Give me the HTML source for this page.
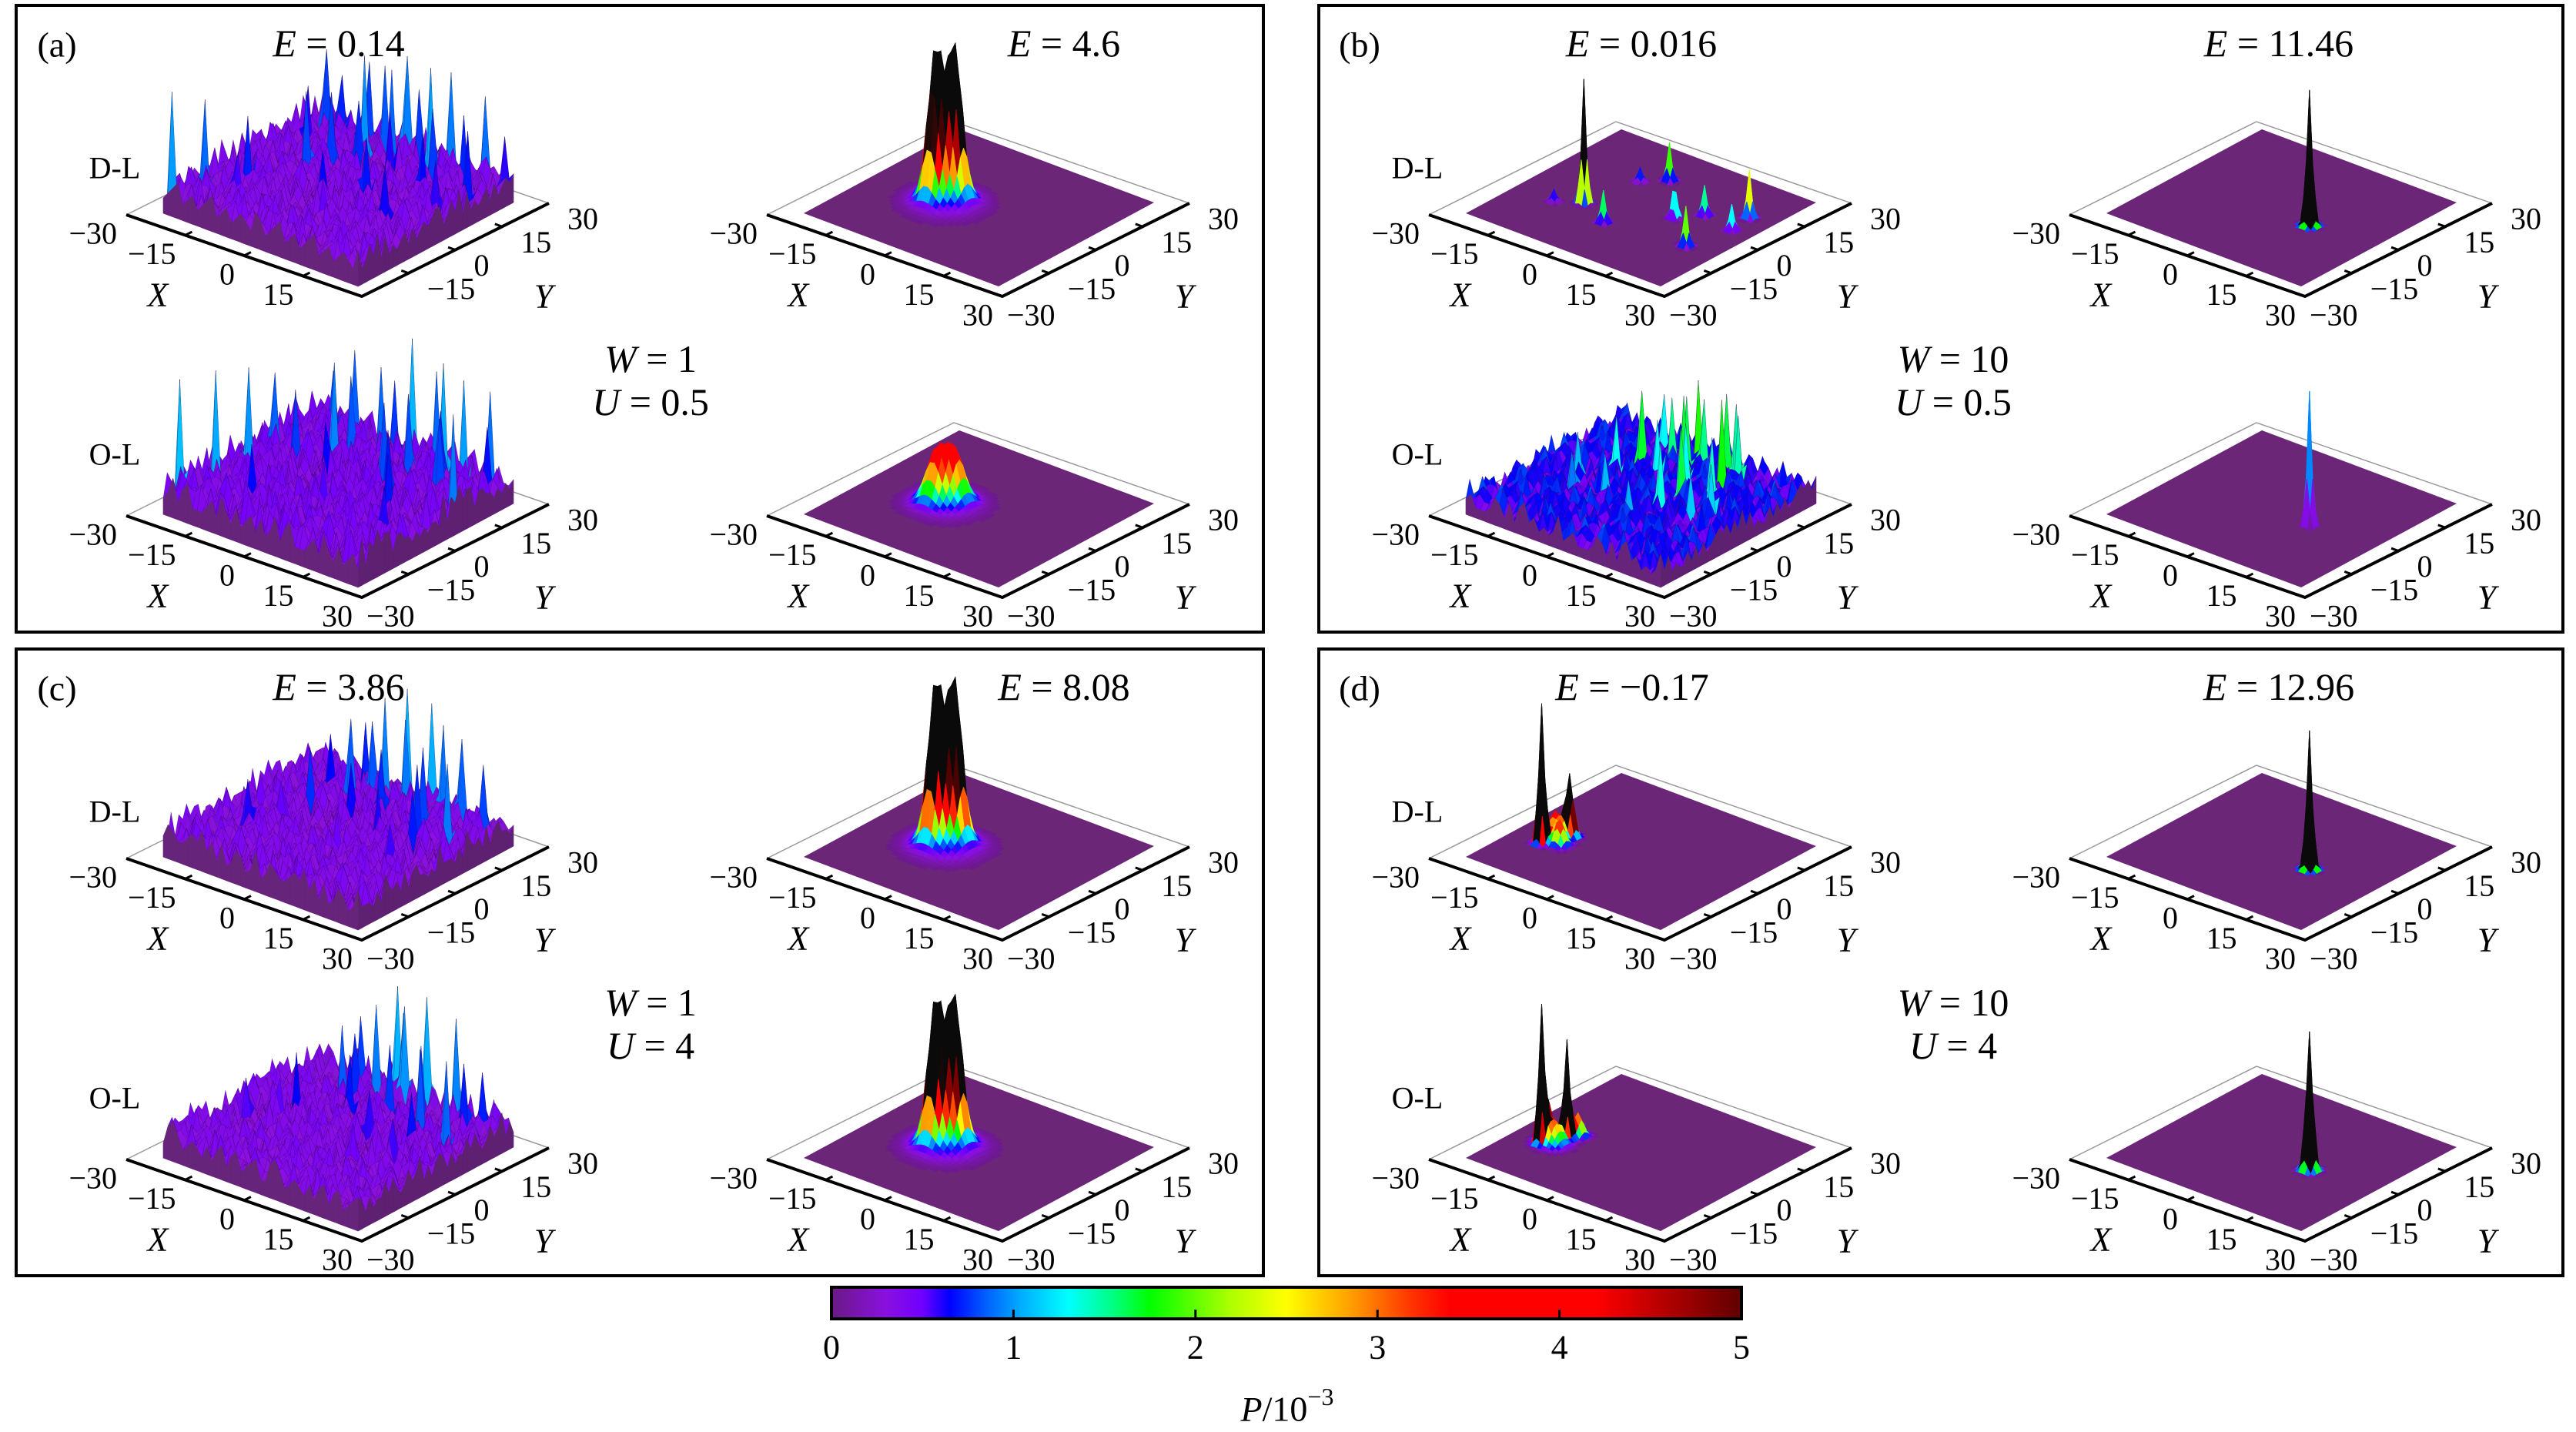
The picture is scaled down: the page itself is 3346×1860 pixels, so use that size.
<!DOCTYPE html>
<html><head><meta charset="utf-8"><title>Probability distributions</title>
<style>
html,body{margin:0;padding:0;background:#fff;}
svg{display:block;font-family:"Liberation Serif",serif;}
</style></head>
<body>
<svg id="fig" xmlns="http://www.w3.org/2000/svg" width="3346" height="1860" viewBox="0 0 3346 1860">
<rect x="0" y="0" width="3346" height="1860" fill="#fff"/>
<defs>
<linearGradient id="cbgrad" x1="0" y1="0" x2="1" y2="0"></linearGradient>
</defs>
</svg>
<script>
// ---------------- data ----------------
const colorbarTicks=[0,1,2,3,4,5];
const panelIds=['(a)','(b)','(c)','(d)'];
const energyLeft=['0.14','0.016','3.86','\u22120.17'];
const energyRight=['4.6','11.46','8.08','12.96'];
const disorderW=['1','10','1','10'];
const interactionU=['0.5','0.5','4','4'];
const axisTicks=[-30,-15,0,15,30];

const texRows=[
"131241312513212431231","213512421231432125132","312143215342113241231",
"421231352124132513241","132413214231541231323","214321243152312412142",
"321252133214231352131","143214321532142132413","231341252143213241321",
"312423143215324132142","421314231342132513231","132521432143241321432",
"241231342152313241321","313421523142314213242","124132143213241532131",
"231453212432152313241","342121341321432142312","213234125132413213421",
"132412312431321542132","421321432152134213241","312143213421321321312"];

// noise plots: spikes (x, y, value)
const aTL_sx=[-28,-26,-20,-14,-8,-2,4,10,16,22,26,-22,-10,0,8,18,-16,-4,12,24,-24,6,-18,-6,2,14,20,28,-12,-1];
const aTL_sy=[-28,-20,-10,4,20,28,26,22,12,28,18,16,10,-6,2,-4,-18,14,28,8,26,-14,24,26,18,20,24,28,27,22];
const aTL_sv=[2.2,1.9,1.5,1.7,2.1,2.0,1.6,2.2,1.4,1.8,1.5,1.3,1.6,1.2,1.4,1.3,1.1,1.5,2.0,1.2,1.7,1.0,1.4,1.8,1.3,1.6,1.5,1.2,1.7,1.9];
const aBL_sx=[-28,-27,-24,-18,-12,-6,0,6,12,18,24,27,-20,-8,4,16,22,-14,2,10,-26,20,-16,-3,8,14,-10,26];
const aBL_sy=[-26,-14,-4,6,14,24,28,20,26,16,28,10,22,4,12,-2,-10,-16,-8,6,8,24,27,26,28,22,18,26];
const aBL_sv=[2.2,2.1,2.0,1.5,1.9,1.7,2.2,1.6,2.1,1.5,1.8,1.9,1.4,1.2,1.6,1.3,1.1,1.2,1.0,1.4,1.6,2.0,1.7,1.5,1.8,1.4,1.6,1.3];
const cTL_sx=[-20,-14,-10,-6,-2,2,6,10,14,18,24,-16,-4,8,20,0,-24,12,4,-8,-12,16,26,-18];
const cTL_sy=[-10,6,18,26,28,24,28,20,14,6,12,-2,10,6,-4,16,0,26,-6,22,26,27,24,20];
const cTL_sv=[1.2,1.5,1.8,2.1,2.3,1.9,2.2,1.7,1.6,1.4,1.9,1.0,1.3,1.2,1.1,1.5,0.9,2.0,1.0,1.7,1.5,1.8,1.6,1.3];
const cBL_sx=[-22,-16,-12,-8,-4,0,4,8,12,16,22,-18,-6,6,18,2,-26,14,-10,10,-14,24,-2,20];
const cBL_sy=[-8,4,16,24,28,26,28,22,16,8,14,0,12,4,-2,18,-4,28,20,-8,26,26,27,24];
const cBL_sv=[1.1,1.4,1.7,2.0,2.3,2.1,2.3,1.6,1.8,1.3,1.9,1.0,1.4,1.2,1.1,1.6,0.9,2.1,1.5,1.0,1.6,1.4,1.9,1.5];
const bBL_sx=[-20,-14,-10,-6,-2,2,6,10,14,18,-16,-4,8,0,-8,4,12,-12,16,6,-1,3,9];
const bBL_sy=[0,8,14,20,24,22,26,18,10,4,-6,12,6,16,-4,-10,22,24,-2,0,20,14,26];
const bBL_sv=[1.6,2.0,2.6,2.3,2.8,2.4,2.6,2.9,2.2,1.8,1.4,2.0,2.5,2.7,1.6,1.5,2.3,2.0,1.7,2.2,2.5,2.1,2.4];

// peak plots: gaussian peaks (x, y, height, width)
const aTR_px=[-9.5,-6.5,-8], aTR_py=[-4.8,-1.2,-3], aTR_ph=[6.5,6.5,1.2], aTR_pw=[1.8,1.8,4.5];
const aBR_px=[-9.5,-6.5,-8], aBR_py=[-4.8,-1.2,-3], aBR_ph=[2.6,2.6,1.0], aBR_pw=[2.2,2.2,4.5];
const cTR_px=[-9.5,-6.5,-8], cTR_py=[-4.8,-1.2,-3], cTR_ph=[7.0,7.0,1.5], cTR_pw=[1.8,1.8,4.5];
const cBR_px=[-9.5,-6.5,-8], cBR_py=[-4.8,-1.2,-3], cBR_ph=[6.5,6.5,1.5], cBR_pw=[1.8,1.8,4.5];
const bTL_px=[-12,-2,-4,23,21,14,24,-18,-9,9.5], bTL_py=[-7,-12,16,13,-9,7,5,-11,11,1];
const bTL_ph=[6.2,1.6,1.9,2.4,2.0,1.5,1.3,0.6,0.7,1.7], bTL_pw=[0.7,0.7,0.7,0.7,0.7,0.7,0.7,0.7,0.7,0.7];
const bTR_px=[11], bTR_py=[-3], bTR_ph=[40], bTR_pw=[0.8];
const bBR_px=[11], bBR_py=[-3], bBR_ph=[0.95], bBR_pw=[0.7];
const dTL_px=[-21,-18,-20,-17], dTL_py=[-12,-5,-8,-10], dTL_ph=[18,8,3.5,3], dTL_pw=[0.8,1.0,1.5,1.2];
const dTR_px=[11], dTR_py=[-3], dTR_ph=[40], dTR_pw=[0.8];
const dBL_px=[-21,-18,-22,-17,-19], dBL_py=[-12,-6,-9,-3,-10], dBL_ph=[17,12.5,5,3,3], dBL_pw=[0.8,0.8,1,1.2,2];
const dBR_px=[11], dBR_py=[-3], dBR_ph=[20], dBR_pw=[0.9];

const cmapVals=[0,0.3,0.5,0.65,0.85,1.05,1.3,1.55,1.75,2.2,2.5,2.85,3.2,3.4,4.2,4.6,5];
const cmapCols=['#6a1a84','#8a10e0','#7000ff','#0000ff','#0060ff','#00b0ff','#00ffff','#00ff80','#00ff00','#b0ff00','#ffff00','#ffa000','#ff3000','#ff0000','#ff0000','#b00000','#600000'];

// ---------------- geometry ----------------
const NS='http://www.w3.org/2000/svg';
const svg=document.getElementById('fig');
const panelOX=[0,1692,0,1692], panelOY=[0,0,836,836];
const subDX=[0,832], subDY=[0,391];
const FL=[164,279], FF=[470,385], FR=[713,264];
const PL=[212,277], PF=[465,372], PR=[667,263];

function hex(c){return [parseInt(c.substr(1,2),16),parseInt(c.substr(3,2),16),parseInt(c.substr(5,2),16)];}
function mix(a,b,t){const A=hex(a),B=hex(b);return 'rgb('+A.map((v,i)=>Math.round(v+(B[i]-v)*t)).join(',')+')';}
function cmap(v){
  if(v>=5){const t=Math.min(1,(v-5)/0.5);return mix('#600000','#0a0a0a',t);}
  if(v<=0)return cmapCols[0];
  for(let k=1;k<cmapVals.length;k++){if(v<=cmapVals[k]){return mix(cmapCols[k-1],cmapCols[k],(v-cmapVals[k-1])/(cmapVals[k]-cmapVals[k-1]));}}
  return cmapCols[cmapCols.length-1];
}
function proj(ox,oy,x,y,z,zs){
  const s=(x+30)/60,t=(y+30)/60;
  return [ox+PL[0]+s*(PF[0]-PL[0])+t*(PR[0]-PF[0]), oy+PL[1]+s*(PF[1]-PL[1])+t*(PR[1]-PF[1])-z*zs];
}
function frameX(ox,oy,x){const s=(x+30)/60;return [ox+FL[0]+s*(FF[0]-FL[0]),oy+FL[1]+s*(FF[1]-FL[1])];}
function frameY(ox,oy,y){const t=(y+30)/60;return [ox+FF[0]+t*(FR[0]-FF[0]),oy+FF[1]+t*(FR[1]-FF[1])];}
function pts(a){return a.map(p=>p[0].toFixed(1)+','+p[1].toFixed(1)).join(' ');}

const plots=[
 {p:0,c:0,r:0,type:'noise',sx:aTL_sx,sy:aTL_sy,sv:aTL_sv,amp:1,spk:0.65,zs:110,shift:0,noHigh:true},
 {p:0,c:1,r:0,type:'peak',px:aTR_px,py:aTR_py,ph:aTR_ph,pw:aTR_pw,zs:27,N:48},
 {p:0,c:0,r:1,type:'noise',sx:aBL_sx,sy:aBL_sy,sv:aBL_sv,amp:1.15,spk:0.7,zs:110,shift:5},
 {p:0,c:1,r:1,type:'peak',px:aBR_px,py:aBR_py,ph:aBR_ph,pw:aBR_pw,zs:20,N:48},
 {p:1,c:0,r:0,type:'peak',px:bTL_px,py:bTL_py,ph:bTL_ph,pw:bTL_pw,zs:26,N:60},
 {p:1,c:1,r:0,type:'peak',px:bTR_px,py:bTR_py,ph:bTR_ph,pw:bTR_pw,zs:4.4,N:60},
 {p:1,c:0,r:1,type:'noise',sx:bBL_sx,sy:bBL_sy,sv:bBL_sv,amp:2.0,spk:0.9,zs:48,shift:9},
 {p:1,c:1,r:1,type:'peak',px:bBR_px,py:bBR_py,ph:bBR_ph,pw:bBR_pw,zs:185,N:60},
 {p:2,c:0,r:0,type:'noise',sx:cTL_sx,sy:cTL_sy,sv:cTL_sv,amp:1,spk:0.65,zs:105,shift:3},
 {p:2,c:1,r:0,type:'peak',px:cTR_px,py:cTR_py,ph:cTR_ph,pw:cTR_pw,zs:26,N:48},
 {p:2,c:0,r:1,type:'noise',sx:cBL_sx,sy:cBL_sy,sv:cBL_sv,amp:1,spk:0.65,zs:105,shift:13},
 {p:2,c:1,r:1,type:'peak',px:cBR_px,py:cBR_py,ph:cBR_ph,pw:cBR_pw,zs:25,N:48},
 {p:3,c:0,r:0,type:'peak',px:dTL_px,py:dTL_py,ph:dTL_ph,pw:dTL_pw,zs:10,N:60},
 {p:3,c:1,r:0,type:'peak',px:dTR_px,py:dTR_py,ph:dTR_ph,pw:dTR_pw,zs:4.5,N:60},
 {p:3,c:0,r:1,type:'peak',px:dBL_px,py:dBL_py,ph:dBL_ph,pw:dBL_pw,zs:10,N:60},
 {p:3,c:1,r:1,type:'peak',px:dBR_px,py:dBR_py,ph:dBR_ph,pw:dBR_pw,zs:9,N:60}
];

function heights(pl){
  const N=pl.type==='noise'?40:pl.N, h=[];
  for(let i=0;i<=N;i++){h.push([]);for(let j=0;j<=N;j++){
    const x=-30+60*i/N,y=-30+60*j/N;let v=0;
    if(pl.type==='noise'){
      const row=texRows[(i+pl.shift)%21];const d=parseInt(row.charAt((j*2+pl.shift)%21)||'2');
      v=0.1+pl.amp*0.08*d;
    } else {
      for(let k=0;k<pl.px.length;k++){const dx=x-pl.px[k],dy=y-pl.py[k];v+=pl.ph[k]*Math.exp(-(dx*dx+dy*dy)/(2*pl.pw[k]*pl.pw[k]));}
    }
    h[i].push(v);
  }}
  if(pl.type==='noise'){
    for(let k=0;k<pl.sx.length;k++){
      const i=Math.round((pl.sx[k]+30)/60*N),j=Math.round((pl.sy[k]+30)/60*N);
      h[i][j]=Math.max(h[i][j],pl.sv[k]*pl.spk);
    }
  }
  return {N,h};
}

function addText(parent,x,y,size,content,anchor,name,italic){
  const t=document.createElementNS(NS,'text');
  
  
  t.setAttribute('x',x);t.setAttribute('y',y);
  t.setAttribute('font-size',size);t.setAttribute('text-anchor',anchor||'middle');
  t.setAttribute('dominant-baseline','central');
  if(italic)t.setAttribute('font-style','italic');
  t.textContent=content;parent.appendChild(t);return t;
}

// ---------------- panels ----------------
for(let p=0;p<4;p++){
  const g=document.createElementNS(NS,'g');
  
  
  svg.appendChild(g);
  const ox=panelOX[p],oy=panelOY[p];
  const box=document.createElementNS(NS,'rect');
  
  
  box.setAttribute('x',ox+21);box.setAttribute('y',oy+7);box.setAttribute('width',p%2?1616:1620);box.setAttribute('height',814);
  box.setAttribute('fill','none');box.setAttribute('stroke','#000');box.setAttribute('stroke-width',4);
  g.appendChild(box);
  addText(g,ox+74,oy+58,46,panelIds[p],'middle','panel-label');
  const e1=addText(g,ox+(p===3?428:440),oy+56,50,'','middle','energy-title-left');
  const ei=document.createElementNS(NS,'tspan');ei.setAttribute('font-style','italic');ei.textContent='E';e1.appendChild(ei);
  e1.appendChild(document.createTextNode(' = '+energyLeft[p]));
  const e2=addText(g,ox+(p%2===1?1268:1382),oy+56,50,'','middle','energy-title-right');
  const ej=document.createElementNS(NS,'tspan');ej.setAttribute('font-style','italic');ej.textContent='E';e2.appendChild(ej);
  e2.appendChild(document.createTextNode(' = '+energyRight[p]));
  const w=addText(g,ox+845,oy+466,50,'','middle','disorder-label');
  const wi=document.createElementNS(NS,'tspan');wi.setAttribute('font-style','italic');wi.textContent='W';w.appendChild(wi);
  w.appendChild(document.createTextNode(' = '+disorderW[p]));
  const u=addText(g,ox+845,oy+522,50,'','middle','interaction-label');
  const ui=document.createElementNS(NS,'tspan');ui.setAttribute('font-style','italic');ui.textContent='U';u.appendChild(ui);
  u.appendChild(document.createTextNode(' = '+interactionU[p]));
  addText(g,ox+149,oy+218,40,'D-L','middle','dl-row-label');
  addText(g,ox+149,oy+590,40,'O-L','middle','ol-row-label');
}

// ---------------- surface plots ----------------
plots.forEach(pl=>{
  const ox=panelOX[pl.p]+subDX[pl.c], oy=panelOY[pl.p]+subDY[pl.r];
  const g=document.createElementNS(NS,'g');
  
  
  svg.appendChild(g);
  const FB=[FL[0]+FR[0]-FF[0],FL[1]+FR[1]-FF[1]];
  const back=document.createElementNS(NS,'polyline');
  
  
  back.setAttribute('points',pts([[ox+FL[0],oy+FL[1]],[ox+FB[0],oy+FB[1]],[ox+FR[0],oy+FR[1]]]));
  back.setAttribute('fill','none');back.setAttribute('stroke','#999');back.setAttribute('stroke-width',1.5);
  g.appendChild(back);
  const plane=document.createElementNS(NS,'polygon');
  
  
  plane.setAttribute('points',pts([proj(ox,oy,-30,-30,0,0),proj(ox,oy,30,-30,0,0),proj(ox,oy,30,30,0,0),proj(ox,oy,-30,30,0,0)]));
  plane.setAttribute('fill','#6b2678');
  g.appendChild(plane);
  const {N,h}=heights(pl);
  const X=i=>-30+60*i/N;
  for(let k=-(N-1);k<=N-1;k++){
    for(let i=0;i<N;i++){
      const j=i-k; if(j<0||j>=N)continue;
      const a=h[i][j],b=h[i+1][j],c=h[i+1][j+1],d=h[i][j+1];
      const mx=Math.max(a,b,c,d);
      if(pl.type==='peak'&&mx<0.03)continue;
      const q=document.createElementNS(NS,'polygon');
      
      
      q.setAttribute('points',pts([proj(ox,oy,X(i),X(j),a,pl.zs),proj(ox,oy,X(i+1),X(j),b,pl.zs),proj(ox,oy,X(i+1),X(j+1),c,pl.zs),proj(ox,oy,X(i),X(j+1),d,pl.zs)]));
      const col=cmap(pl.type==='peak'?mx:(0.5*mx+0.5*(a+b+c+d)/4));
      q.setAttribute('fill',col);
      q.setAttribute('stroke',pl.type==='noise'?'rgba(40,0,60,0.3)':col);
      q.setAttribute('stroke-width',pl.type==='noise'?0.5:0.8);
      g.appendChild(q);
    }
  }
  if(pl.type==='noise'){
    for(let j=0;j<N;j++){
      const s=document.createElementNS(NS,'polygon');
      
      
      s.setAttribute('points',pts([proj(ox,oy,30,X(j),h[N][j],pl.zs),proj(ox,oy,30,X(j+1),h[N][j+1],pl.zs),proj(ox,oy,30,X(j+1),0,0),proj(ox,oy,30,X(j),0,0)]));
      s.setAttribute('fill','#5e2070');s.setAttribute('stroke','#5e2070');s.setAttribute('stroke-width',0.6);
      g.appendChild(s);
    }
    for(let i=0;i<N;i++){
      const s=document.createElementNS(NS,'polygon');
      
      
      s.setAttribute('points',pts([proj(ox,oy,X(i),-30,h[i][0],pl.zs),proj(ox,oy,X(i+1),-30,h[i+1][0],pl.zs),proj(ox,oy,X(i+1),-30,0,0),proj(ox,oy,X(i),-30,0,0)]));
      s.setAttribute('fill','#66247a');s.setAttribute('stroke','#66247a');s.setAttribute('stroke-width',0.6);
      g.appendChild(s);
    }
  }
  // axes
  const ax=document.createElementNS(NS,'polyline');
  
  
  ax.setAttribute('points',pts([[ox+FL[0],oy+FL[1]],[ox+FF[0],oy+FF[1]],[ox+FR[0],oy+FR[1]]]));
  ax.setAttribute('fill','none');ax.setAttribute('stroke','#000');ax.setAttribute('stroke-width',4);
  g.appendChild(ax);
  const ux=[(FR[0]-FF[0]),(FR[1]-FF[1])],ul=Math.hypot(ux[0],ux[1]);
  const vx=[(FF[0]-FL[0]),(FF[1]-FL[1])],vl=Math.hypot(vx[0],vx[1]);
  axisTicks.forEach(t=>{
    const P=frameX(ox,oy,t);
    if(t>-30&&t<30){
      const tk=document.createElementNS(NS,'line');
      
      
      tk.setAttribute('x1',P[0]);tk.setAttribute('y1',P[1]);tk.setAttribute('x2',P[0]+ux[0]/ul*10);tk.setAttribute('y2',P[1]+ux[1]/ul*10);
      tk.setAttribute('stroke','#000');tk.setAttribute('stroke-width',3);g.appendChild(tk);
    }
    if(!(pl.noHigh&&t===30))addText(g,P[0]-12,P[1]+24,40,(t<0?'\u2212':'')+Math.abs(t),'end','x-tick-label');
    const Q=frameY(ox,oy,t);
    if(t>-30&&t<30){
      const tk=document.createElementNS(NS,'line');
      
      
      tk.setAttribute('x1',Q[0]);tk.setAttribute('y1',Q[1]);tk.setAttribute('x2',Q[0]-vx[0]/vl*10);tk.setAttribute('y2',Q[1]-vx[1]/vl*10);
      tk.setAttribute('stroke','#000');tk.setAttribute('stroke-width',3);g.appendChild(tk);
    }
    if(!(pl.noHigh&&t===-30))addText(g,Q[0]+(t===-30?6:24),Q[1]+(t===-30?24:20),40,(t<0?'\u2212':'')+Math.abs(t),'start','y-tick-label');
  });
  addText(g,ox+205,oy+383,44,'X','middle','x-axis-title',true);
  addText(g,ox+706,oy+385,44,'Y','middle','y-axis-title',true);
});

// ---------------- colorbar ----------------
const grad=document.getElementById('cbgrad');
cmapVals.forEach((v,k)=>{
  const st=document.createElementNS(NS,'stop');
  
  
  st.setAttribute('offset',(v/5*100)+'%');st.setAttribute('stop-color',cmapCols[k]);grad.appendChild(st);
});
const cbX0=1080,cbX1=2262,cbY=1672,cbH=41;
const cb=document.createElementNS(NS,'rect');


cb.setAttribute('x',cbX0);cb.setAttribute('y',cbY);cb.setAttribute('width',cbX1-cbX0);cb.setAttribute('height',cbH);
cb.setAttribute('fill','url(#cbgrad)');cb.setAttribute('stroke','#000');cb.setAttribute('stroke-width',4);
svg.appendChild(cb);
colorbarTicks.forEach(v=>{
  const x=cbX0+(cbX1-cbX0)*v/5;
  if(v>0&&v<5){
    const tk=document.createElementNS(NS,'line');
    
    
    tk.setAttribute('x1',x);tk.setAttribute('x2',x);tk.setAttribute('y1',cbY+cbH);tk.setAttribute('y2',cbY+cbH-12);
    tk.setAttribute('stroke','#000');tk.setAttribute('stroke-width',3);svg.appendChild(tk);
  }
  addText(svg,x,1750,44,String(v),'middle','colorbar-tick-label');
});
const cl=addText(svg,1672,1830,46,'','middle','colorbar-title');
const cp=document.createElementNS(NS,'tspan');cp.setAttribute('font-style','italic');cp.textContent='P';cl.appendChild(cp);
cl.appendChild(document.createTextNode('/10'));
const cs=document.createElementNS(NS,'tspan');cs.setAttribute('dy','-16');cs.setAttribute('font-size','32');cs.textContent='\u22123';cl.appendChild(cs);
</script>
</body></html>
